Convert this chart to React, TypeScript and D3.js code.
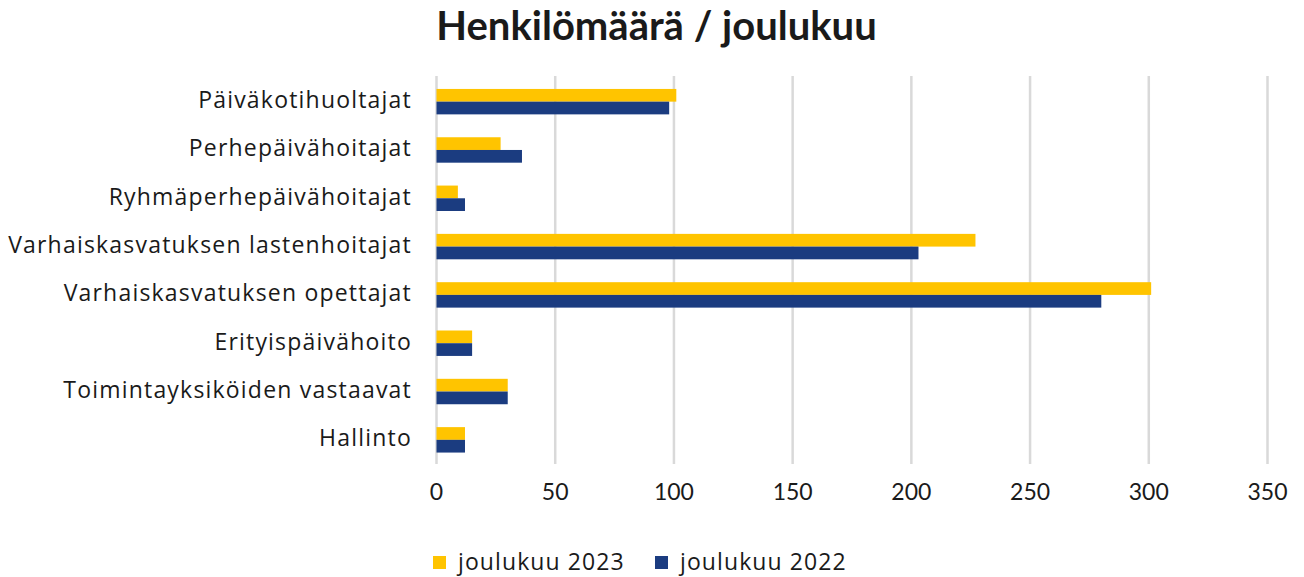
import React from "react";
import * as d3 from "d3";

const categories = [
  "Päiväkotihuoltajat",
  "Perhepäivähoitajat",
  "Ryhmäperhepäivähoitajat",
  "Varhaiskasvatuksen lastenhoitajat",
  "Varhaiskasvatuksen opettajat",
  "Erityispäivähoito",
  "Toimintayksiköiden vastaavat",
  "Hallinto",
];
const values2023 = [101, 27, 9, 227, 301, 15, 30, 12];
const values2022 = [98, 36, 12, 203, 280, 15, 30, 12];
const seriesNames = ["joulukuu 2023", "joulukuu 2022"];
const seriesColors = ["#FFC400", "#1B3C80"];
const tickValues = [0, 50, 100, 150, 200, 250, 300, 350];
const title = "Henkilömäärä / joulukuu";

const W = 1304;
const H = 577;
const FONT = "Lato, 'Open Sans', sans-serif";
const LFONT = "'Open Sans', Lato, sans-serif";

export default function App() {
  const x = d3.scaleLinear().domain([0, 350]).range([436.5, 1267.5]);
  const y = d3.scaleBand<string>().domain(categories).range([77.5, 464]).paddingInner(0).paddingOuter(0);
  const band = y.bandwidth();
  const barH = band / 3.8;
  const series = [values2023, values2022];

  return (
    <svg width={W} height={H} style={{ position: "absolute", left: 0, top: 0, background: "#fff" }}>
      <text x={656.5} y={40} textAnchor="middle" fontFamily={FONT} fontWeight={700} fontSize={40} fill="#1a1a1a">
        {title}
      </text>
      {tickValues.map((t) => (
        <line key={"g" + t} x1={x(t)} x2={x(t)} y1={76} y2={464} stroke="#d9d9d9" strokeWidth={2.5} />
      ))}
      {categories.map((c, i) => {
        const cy = (y(c) as number) + band / 2;
        return (
          <g key={c}>
            {series.map((vals, s) => (
              <rect
                key={s}
                x={x(0)}
                y={cy - barH + s * barH}
                width={x(vals[i]) - x(0)}
                height={barH}
                fill={seriesColors[s]}
              />
            ))}
            <text
              x={412}
              y={cy + 6.5}
              textAnchor="end"
              fontFamily={LFONT}
              fontSize={23}
              letterSpacing={1.2}
              fill="#1a1a1a"
            >
              {c}
            </text>
          </g>
        );
      })}
      {tickValues.map((t) => (
        <text key={"t" + t} x={x(t)} y={500} textAnchor="middle" fontFamily={FONT} fontSize={23} fill="#1a1a1a">
          {t}
        </text>
      ))}
      {seriesNames.map((n, i) => {
        const lx = i === 0 ? 433 : 655;
        return (
          <g key={n}>
            <rect x={lx} y={556} width={13} height={13} fill={seriesColors[i]} />
            <text x={lx + 25} y={569.5} fontFamily={LFONT} fontSize={23} letterSpacing={1.1} fill="#1a1a1a">
              {n}
            </text>
          </g>
        );
      })}
    </svg>
  );
}
